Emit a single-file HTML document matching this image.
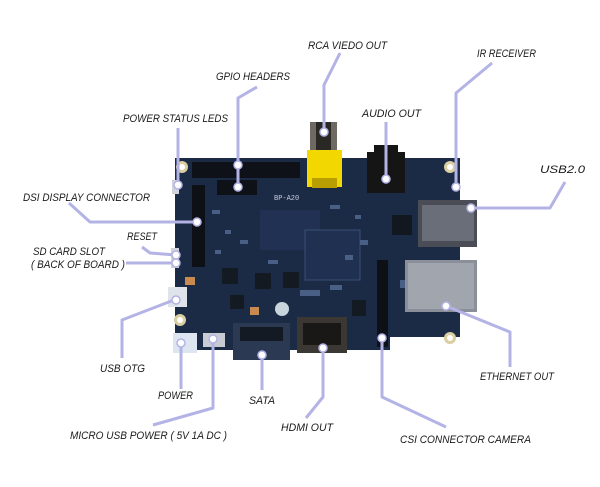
<!DOCTYPE html>
<html><head><meta charset="utf-8"><style>html,body{margin:0;padding:0;background:#fff}svg{display:block}</style></head>
<body>
<svg width="600" height="487" viewBox="0 0 600 487" xmlns="http://www.w3.org/2000/svg">
<g>
<path d="M175 158 H460 V337 H390 V350 H175 Z" fill="#1b2a45"/>
<rect x="260" y="210" width="60" height="40" fill="#22355a" opacity="0.7"/>
<rect x="305" y="230" width="55" height="50" fill="#1f3050" stroke="#3a4f78" stroke-width="1"/>
<g fill="#4a5f85">
<rect x="225" y="230" width="6" height="4"/><rect x="240" y="240" width="8" height="4"/><rect x="215" y="250" width="6" height="4"/>
<rect x="330" y="205" width="10" height="4"/><rect x="355" y="215" width="6" height="4"/><rect x="360" y="240" width="8" height="5"/>
<rect x="300" y="290" width="20" height="6"/><rect x="330" y="285" width="12" height="5"/><rect x="400" y="280" width="5" height="8"/>
<rect x="212" y="210" width="8" height="4"/><rect x="268" y="260" width="10" height="4"/><rect x="345" y="255" width="8" height="5"/>
</g>
<rect x="392" y="215" width="20" height="20" fill="#111820"/>
<rect x="222" y="268" width="16" height="16" fill="#141a22"/>
<rect x="255" y="273" width="16" height="16" fill="#141a22"/>
<rect x="283" y="272" width="16" height="16" fill="#141a22"/>
<rect x="230" y="295" width="14" height="14" fill="#141a22"/>
<rect x="352" y="300" width="14" height="16" fill="#141a22"/>
<circle cx="282" cy="309" r="7" fill="#c8d4dc"/>
<rect x="185" y="277" width="10" height="8" fill="#c88a50"/>
<rect x="250" y="307" width="9" height="8" fill="#c88a50"/>
<circle cx="182" cy="167" r="6" fill="#d9cfa0"/><circle cx="182" cy="167" r="3" fill="#fff"/>
<circle cx="450" cy="167" r="6" fill="#d9cfa0"/><circle cx="450" cy="167" r="3" fill="#fff"/>
<circle cx="180" cy="320" r="6" fill="#d9cfa0"/><circle cx="180" cy="320" r="3" fill="#fff"/>
<circle cx="450" cy="338" r="6" fill="#d9cfa0"/><circle cx="450" cy="338" r="3" fill="#fff"/>
<rect x="192" y="162" width="108" height="16" fill="#0e1218"/>
<rect x="217" y="180" width="40" height="15" fill="#0e1218"/>
<rect x="310" y="122" width="27" height="30" fill="#6e6a62"/>
<rect x="316" y="122" width="15" height="30" fill="#2a2825"/>
<rect x="307" y="150" width="35" height="37" fill="#f2d800"/>
<rect x="312" y="178" width="25" height="10" fill="#b89e00"/>
<rect x="367" y="152" width="38" height="41" fill="#151515"/>
<rect x="374" y="145" width="24" height="10" fill="#151515"/>
<rect x="418" y="200" width="59" height="47" fill="#4a4d55"/>
<rect x="422" y="205" width="52" height="36" fill="#6a6e78"/>
<rect x="405" y="260" width="72" height="52" fill="#8a8f99"/>
<rect x="408" y="263" width="66" height="46" fill="#a0a5ae"/>
<rect x="297" y="317" width="50" height="36" fill="#3b3833"/>
<rect x="303" y="323" width="38" height="22" fill="#1a1816"/>
<rect x="233" y="323" width="57" height="37" fill="#2b3a52"/>
<rect x="240" y="327" width="43" height="14" fill="#141a24"/>
<rect x="192" y="185" width="13" height="82" fill="#0d1015"/>
<rect x="377" y="260" width="11" height="87" fill="#0d1015"/>
<rect x="168" y="287" width="19" height="20" fill="#dfe3ea"/>
<rect x="173" y="333" width="24" height="20" fill="#dde6f0"/>
<rect x="203" y="333" width="22" height="14" fill="#c8ccd2"/>
<rect x="171" y="248" width="8" height="20" fill="#d0d4da"/>
<rect x="172" y="180" width="7" height="14" fill="#d0d4da"/>
<text x="274" y="200" font-family="Liberation Mono" font-size="7" fill="#c8cfe0">BP-A20</text>
</g>
<g fill="none" stroke="#b3b3e6" stroke-width="3" stroke-linejoin="round">
<polyline points="340,53 324,85 324,132"/>
<polyline points="257,87 238,98 238,187"/>
<polyline points="178,128 178,185"/>
<polyline points="386,122 386,179"/>
<polyline points="492,63 456,93 456,187"/>
<polyline points="565,182 550,208 471,208"/>
<polyline points="69,203 90,222 197,222"/>
<polyline points="142,247 150,253 176,255"/>
<polyline points="126,263 174,263"/>
<polyline points="122,358 122,320 174,300"/>
<polyline points="181,389 181,343"/>
<polyline points="153,425 213,408 213,339"/>
<polyline points="262,390 262,355"/>
<polyline points="306,418 323,397 323,348"/>
<polyline points="446,427 382,397 382,338"/>
<polyline points="510,367 510,332 446,306"/>
</g>
<g fill="#fff" stroke="#b3b3e6" stroke-width="1.5">
<circle cx="324" cy="132" r="4"/><circle cx="238" cy="165" r="4"/><circle cx="238" cy="187" r="4"/>
<circle cx="178" cy="185" r="4"/><circle cx="386" cy="179" r="4"/><circle cx="456" cy="187" r="4"/>
<circle cx="471" cy="208" r="4"/><circle cx="197" cy="222" r="4"/><circle cx="176" cy="255" r="4"/>
<circle cx="176" cy="263" r="4"/><circle cx="176" cy="300" r="4"/><circle cx="181" cy="343" r="4"/>
<circle cx="213" cy="339" r="4"/><circle cx="262" cy="355" r="4"/><circle cx="323" cy="348" r="4"/>
<circle cx="382" cy="338" r="4"/><circle cx="446" cy="306" r="4"/>
</g>
<g font-family="Liberation Sans, sans-serif" font-size="11" fill="#1a1a1a" font-style="italic">
<text x="308" y="49" textLength="79" lengthAdjust="spacingAndGlyphs">RCA VIEDO OUT</text>
<text x="216" y="80" textLength="74" lengthAdjust="spacingAndGlyphs">GPIO HEADERS</text>
<text x="477" y="57" textLength="59" lengthAdjust="spacingAndGlyphs">IR RECEIVER</text>
<text x="123" y="122" textLength="105" lengthAdjust="spacingAndGlyphs">POWER STATUS LEDS</text>
<text x="362" y="117" textLength="59" lengthAdjust="spacingAndGlyphs">AUDIO OUT</text>
<text x="540" y="173" textLength="45" lengthAdjust="spacingAndGlyphs">USB2.0</text>
<text x="23" y="201" textLength="127" lengthAdjust="spacingAndGlyphs">DSI DISPLAY CONNECTOR</text>
<text x="127" y="240" textLength="30" lengthAdjust="spacingAndGlyphs">RESET</text>
<text x="33" y="255" textLength="72" lengthAdjust="spacingAndGlyphs">SD CARD SLOT</text>
<text x="31" y="268" textLength="94" lengthAdjust="spacingAndGlyphs">( BACK OF BOARD )</text>
<text x="100" y="372" textLength="45" lengthAdjust="spacingAndGlyphs">USB OTG</text>
<text x="480" y="380" textLength="74" lengthAdjust="spacingAndGlyphs">ETHERNET OUT</text>
<text x="158" y="399" textLength="35" lengthAdjust="spacingAndGlyphs">POWER</text>
<text x="249" y="404" textLength="26" lengthAdjust="spacingAndGlyphs">SATA</text>
<text x="281" y="431" textLength="52" lengthAdjust="spacingAndGlyphs">HDMI OUT</text>
<text x="70" y="439" textLength="157" lengthAdjust="spacingAndGlyphs">MICRO USB POWER ( 5V 1A DC )</text>
<text x="400" y="443" textLength="131" lengthAdjust="spacingAndGlyphs">CSI CONNECTOR CAMERA</text>
</g>
</svg>
</body></html>
